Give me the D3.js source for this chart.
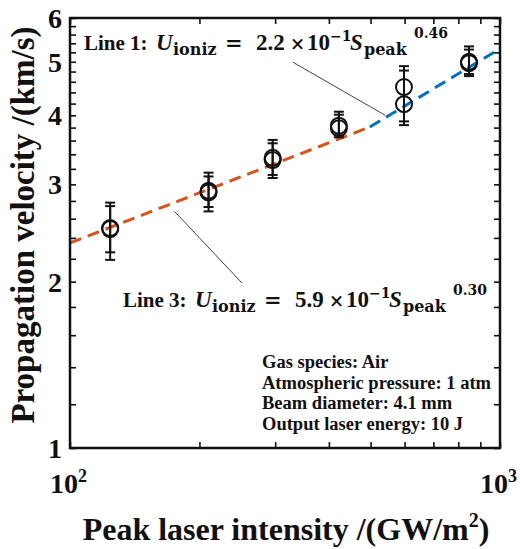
<!DOCTYPE html>
<html>
<head>
<meta charset="utf-8">
<script src="https://cdn.jsdelivr.net/npm/d3@7"></script>
<style>
  body { margin: 0; background: #fff; }
  svg { display: block; }
  text { font-family: "Liberation Serif", "Times New Roman", serif; font-weight: bold; fill: #111; }
  .math { font-family: "DejaVu Serif", serif; }
</style>
</head>
<body>
<div id="chart"></div>
<script>
// peak laser intensity (GW/m^2) and propagation velocity (km/s), two overlapping runs
const intensity = [124, 210, 296, 422, 598, 847];
const velocityA = [2.50, 2.92, 3.35, 3.83, 4.50, 5.00];
const lowA      = [2.19, 2.68, 3.08, 3.65, 3.84, 4.71];
const highA     = [2.78, 3.15, 3.61, 4.06, 4.91, 5.33];
const velocityB = [2.49, 2.90, 3.32, 3.79, 4.19, 4.97];
const lowB      = [2.26, 2.73, 3.12, 3.68, 3.90, 4.75];
const highB     = [2.74, 3.10, 3.56, 4.01, 4.82, 5.26];

// fitted power laws, end points
const line3Fit = [[100, 2.35], [498, 3.81]];
const line1Fit = [[498, 3.81], [1000, 5.28]];

// annotation leader lines (data units)
const line1Pointer = [[330, 4.99], [541, 4.00]];
const line3Pointer = [[175, 2.68], [251, 1.99]];

const yTickLabels = [1, 2, 3, 4, 5, 6];
const yMinorTicks = [1.2,1.4,1.6,1.8,2.2,2.4,2.6,2.8,3.2,3.4,3.6,3.8,4.2,4.4,4.6,4.8,5.2,5.4,5.6,5.8];
const xTickLabels = [[100, "2"], [1000, "3"]];
const xMinorTicks = [200, 300, 400, 500, 600, 700, 800, 900];

const infoLines = [
    "Gas species: Air",
    "Atmospheric pressure: 1 atm",
    "Beam diameter: 4.1 mm",
    "Output laser energy: 10 J"
];

const width = 520, height = 549;
const margin = {top: 18, right: 20, bottom: 101, left: 70};
const innerWidth = width - margin.left - margin.right;
const innerHeight = height - margin.top - margin.bottom;

const svg = d3.select("#chart").append("svg")
    .attr("width", width)
    .attr("height", height);

const g = svg.append("g")
    .attr("transform", "translate(" + margin.left + "," + margin.top + ")");

const x = d3.scaleLog().domain([100, 1000]).range([0, innerWidth]);
const y = d3.scaleLog().domain([1, 6]).range([innerHeight, 0]);

// ticks on all four sides, pointing inward
const allY = yTickLabels.concat(yMinorTicks);
const allX = [100, 1000].concat(xMinorTicks);
const tickStyle = function (sel) {
    sel.select(".domain").remove();
    sel.selectAll("line").attr("stroke", "#111").attr("stroke-width", 1.6);
};
g.append("g").call(d3.axisLeft(y).tickValues(allY).tickSize(-6).tickFormat("")).call(tickStyle);
g.append("g").attr("transform", "translate(" + innerWidth + ",0)")
    .call(d3.axisRight(y).tickValues(allY).tickSize(-6).tickFormat("")).call(tickStyle);
g.append("g").attr("transform", "translate(0," + innerHeight + ")")
    .call(d3.axisBottom(x).tickValues(allX).tickSize(-6).tickFormat("")).call(tickStyle);
g.append("g").call(d3.axisTop(x).tickValues(allX).tickSize(-6).tickFormat("")).call(tickStyle);

// y tick labels
g.selectAll(".ylab")
    .data(yTickLabels)
    .enter()
    .append("text")
    .attr("class", "ylab")
    .attr("x", -8)
    .attr("y", d => y(d) + 10)
    .attr("text-anchor", "end")
    .style("font-size", "28px")
    .text(d => d);

// x tick labels 10^n
xTickLabels.forEach(function (d) {
    const t = g.append("text")
        .attr("x", x(d[0]) - 20)
        .attr("y", innerHeight + 45)
        .style("font-size", "28px");
    t.append("tspan").text("10");
    t.append("tspan").attr("dy", -11).style("font-size", "18px").text(d[1]);
});

// fitted lines
const line = d3.line().x(d => x(d[0])).y(d => y(d[1]));
g.append("path")
    .datum(line3Fit)
    .attr("fill", "none")
    .attr("stroke", "#D95319")
    .attr("stroke-width", 3)
    .attr("stroke-dasharray", "12,7")
    .attr("d", line);
g.append("path")
    .datum(line1Fit)
    .attr("fill", "none")
    .attr("stroke", "#0072BD")
    .attr("stroke-width", 3)
    .attr("stroke-dasharray", "12,7")
    .attr("d", line);

// error bars + circles
const drawRun = function (vals, lows, highs) {
    const pts = intensity.map((s, i) => ({s: s, v: vals[i], lo: lows[i], hi: highs[i]}));
    const grp = g.append("g").attr("stroke", "#111").attr("stroke-width", 2).attr("fill", "none");
    grp.selectAll(".bar").data(pts).enter().append("line")
        .attr("x1", d => x(d.s)).attr("x2", d => x(d.s))
        .attr("y1", d => y(d.lo)).attr("y2", d => y(d.hi));
    grp.selectAll(".capl").data(pts).enter().append("line")
        .attr("x1", d => x(d.s) - 5).attr("x2", d => x(d.s) + 5)
        .attr("y1", d => y(d.lo)).attr("y2", d => y(d.lo));
    grp.selectAll(".caph").data(pts).enter().append("line")
        .attr("x1", d => x(d.s) - 5).attr("x2", d => x(d.s) + 5)
        .attr("y1", d => y(d.hi)).attr("y2", d => y(d.hi));
    grp.selectAll("circle").data(pts).enter().append("circle")
        .attr("cx", d => x(d.s)).attr("cy", d => y(d.v))
        .attr("r", 8);
};
drawRun(velocityA, lowA, highA);
drawRun(velocityB, lowB, highB);

// leader lines
[line1Pointer, line3Pointer].forEach(function (p) {
    g.append("path").datum(p)
        .attr("fill", "none")
        .attr("stroke", "#444")
        .attr("stroke-width", 1)
        .attr("d", line);
});

// equations: each piece placed at its own offset
const equation = function (px, py, label, coef, expo) {
    const pieces = [
        {t: label,  dx: 0,   dy: 0,   size: 21},
        {t: "U",    dx: 72,  dy: 0,   size: 23, italic: true},
        {t: "ioniz", dx: 89, dy: 5,   size: 16, math: true},
        {t: "=",    dx: 141, dy: 0,   size: 21, math: true},
        {t: coef,   dx: 172, dy: 0,   size: 23},
        {t: "×",    dx: 206, dy: 0,   size: 18, math: true},
        {t: "10",   dx: 223, dy: 0,   size: 23},
        {t: "−1",   dx: 246, dy: -9,  size: 14, math: true},
        {t: "S",    dx: 266, dy: 0,   size: 23, italic: true},
        {t: "peak", dx: 280, dy: 5,   size: 16, math: true},
        {t: expo,   dx: 330, dy: -12, size: 14, math: true}
    ];
    const t = svg.append("text").attr("y", py);
    pieces.forEach(function (p) {
        t.append("tspan")
            .attr("class", p.math ? "math" : null)
            .attr("x", px + p.dx)
            .attr("y", py + p.dy)
            .style("font-size", p.size + "px")
            .style("font-style", p.italic ? "italic" : null)
            .text(p.t);
    });
};
equation(84, 50, "Line 1:", "2.2", "0.46");
equation(123, 307, "Line 3:", "5.9", "0.30");

// experiment info
svg.selectAll(".info")
    .data(infoLines)
    .enter()
    .append("text")
    .attr("class", "info")
    .attr("x", 262)
    .attr("y", (d, i) => 368 + i * 20.7)
    .style("font-size", "18.5px")
    .text(d => d);

// frame
g.append("rect")
    .attr("width", innerWidth)
    .attr("height", innerHeight)
    .attr("fill", "none")
    .attr("stroke", "#111")
    .attr("stroke-width", 2.5);

// axis titles
const xt = svg.append("text")
    .attr("x", 286)
    .attr("y", 540)
    .attr("text-anchor", "middle")
    .style("font-size", "32px");
xt.append("tspan").text("Peak laser intensity /(GW/m");
xt.append("tspan").attr("dy", -13).style("font-size", "20px").text("2");
xt.append("tspan").attr("dy", 13).text(")");

svg.append("text")
    .attr("transform", "translate(34,225) rotate(-90)")
    .attr("text-anchor", "middle")
    .style("font-size", "33px")
    .text("Propagation velocity /(km/s)");
</script>
</body>
</html>
